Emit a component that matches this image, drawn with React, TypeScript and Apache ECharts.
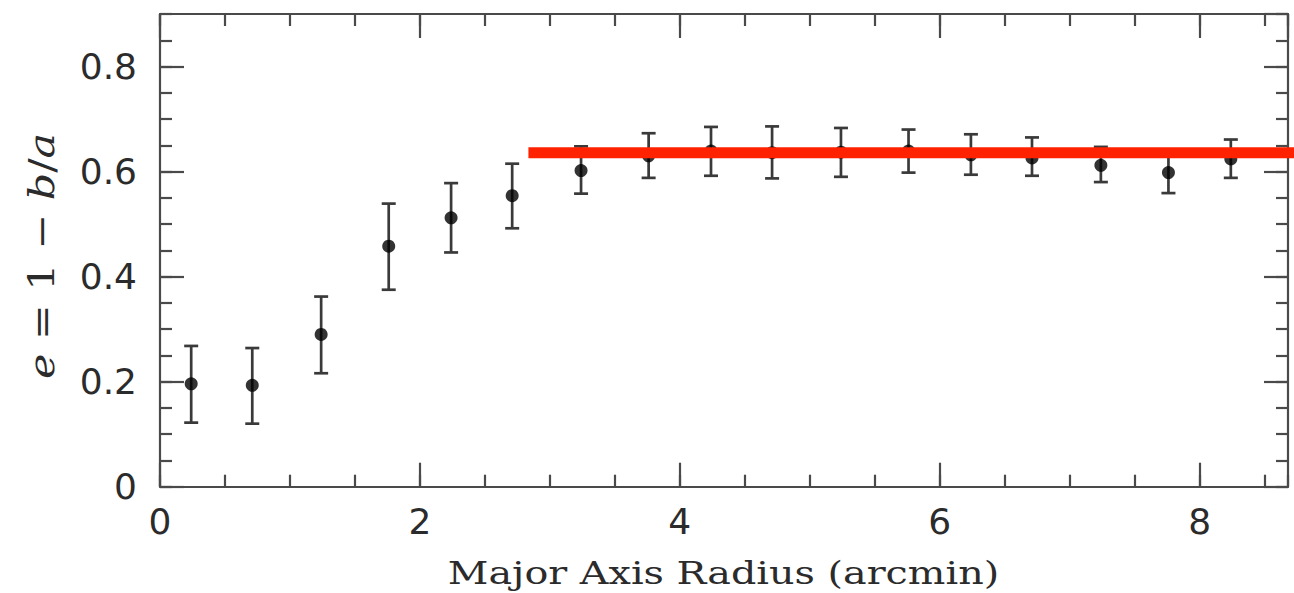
import React, { useEffect, useRef } from "react";
import * as echarts from "echarts";

// ---- Data ----
const radius = [0.24, 0.71, 1.24, 1.76, 2.24, 2.71, 3.24, 3.76, 4.24, 4.71, 5.24, 5.76, 6.24, 6.71, 7.24, 7.76, 8.24];
const ellipticity = [0.196, 0.193, 0.29, 0.458, 0.512, 0.554, 0.602, 0.63, 0.639, 0.636, 0.637, 0.639, 0.632, 0.626, 0.612, 0.598, 0.624];
const errLower = [0.122, 0.12, 0.216, 0.375, 0.446, 0.492, 0.558, 0.588, 0.592, 0.587, 0.59, 0.598, 0.594, 0.592, 0.58, 0.559, 0.588];
const errUpper = [0.268, 0.264, 0.362, 0.539, 0.578, 0.615, 0.648, 0.673, 0.685, 0.686, 0.683, 0.68, 0.671, 0.665, 0.647, 0.636, 0.661];
const fitLevel = 0.636;
const fitStart = 2.835;
const fitEnd = 8.75;

const X_MAX = 8.68;
const Y_MAX = 0.9;

const AXIS_COLOR = "#4a4a4a";
const TEXT_COLOR = "#2b2b2b";

export default function App() {
  const ref = useRef<HTMLDivElement>(null);

  useEffect(() => {
    if (!ref.current) return;
    const chart = echarts.init(ref.current, null, { renderer: "svg" });

    const line = { lineStyle: { color: AXIS_COLOR, width: 2.2 } };
    const mkX = (position: string, interval: number, len: number, showLine: boolean, labels: boolean) => ({
      type: "value",
      position,
      min: 0,
      max: X_MAX,
      interval,
      axisLine: { show: showLine, onZero: false, ...line },
      axisTick: { show: true, inside: true, length: len, ...line },
      axisLabel: {
        show: labels,
        fontSize: 36,
        fontFamily: "DejaVu Sans",
        color: TEXT_COLOR,
        margin: 17,
        showMaxLabel: false,
      },
      splitLine: { show: false },
    });
    const mkY = (position: string, interval: number, len: number, showLine: boolean, labels: boolean) => ({
      type: "value",
      position,
      min: 0,
      max: Y_MAX,
      interval,
      axisLine: { show: showLine, onZero: false, ...line },
      axisTick: { show: true, inside: true, length: len, ...line },
      axisLabel: {
        show: labels,
        fontSize: 36,
        fontFamily: "DejaVu Sans",
        color: TEXT_COLOR,
        margin: 23,
        showMaxLabel: false,
        formatter: (v: number) => (v === 0 ? "0" : v.toFixed(1)),
      },
      splitLine: { show: false },
    });

    const errData = radius.map((r, i) => [r, errLower[i], errUpper[i]]);
    const pointData = radius.map((r, i) => [r, ellipticity[i]]);

    chart.setOption({
      animation: false,
      backgroundColor: "#ffffff",
      grid: { left: 160, right: 6, top: 14, bottom: 106.3, containLabel: false },
      xAxis: [
        mkX("bottom", 2, 24, true, true),
        mkX("bottom", 0.5, 12, false, false),
        mkX("top", 2, 24, true, false),
        mkX("top", 0.5, 12, false, false),
      ],
      yAxis: [
        mkY("left", 0.2, 24, true, true),
        mkY("left", 0.05, 12, false, false),
        mkY("right", 0.2, 24, true, false),
        mkY("right", 0.05, 12, false, false),
      ],
      graphic: [
        {
          type: "text",
          x: 723.5,
          y: 573,
          scaleX: 1.24,
          style: {
            text: "Major Axis Radius (arcmin)",
            font: "32px 'DejaVu Serif'",
            fill: TEXT_COLOR,
            align: "center",
            verticalAlign: "middle",
          },
        },
        {
          type: "text",
          x: 41,
          y: 256,
          rotation: Math.PI / 2,
          scaleX: 1.19,
          style: {
            text: "{i|e} = 1 − {i|b}/{i|a}",
            font: "36px 'DejaVu Serif'",
            fill: TEXT_COLOR,
            align: "center",
            verticalAlign: "middle",
            rich: {
              i: { fontStyle: "italic", fontFamily: "DejaVu Serif", fontSize: 36, fill: TEXT_COLOR },
            },
          },
        },
      ],
      series: [
        {
          type: "custom",
          xAxisIndex: 0,
          yAxisIndex: 0,
          data: errData,
          z: 2,
          renderItem: (params: any, api: any) => {
            const x = api.value(0);
            const lo = api.coord([x, api.value(1)]);
            const hi = api.coord([x, api.value(2)]);
            const half = 7;
            const style = { stroke: "#3a3a3a", lineWidth: 2.7 };
            return {
              type: "group",
              children: [
                { type: "line", shape: { x1: lo[0], y1: lo[1], x2: hi[0], y2: hi[1] }, style },
                { type: "line", shape: { x1: lo[0] - half, y1: lo[1], x2: lo[0] + half, y2: lo[1] }, style },
                { type: "line", shape: { x1: hi[0] - half, y1: hi[1], x2: hi[0] + half, y2: hi[1] }, style },
              ],
            };
          },
        },
        {
          type: "scatter",
          xAxisIndex: 0,
          yAxisIndex: 0,
          data: pointData,
          symbol: "circle",
          symbolSize: 13,
          itemStyle: { color: "#000000" },
          z: 3,
        },
        {
          type: "line",
          xAxisIndex: 0,
          yAxisIndex: 0,
          data: [
            [fitStart, fitLevel],
            [fitEnd, fitLevel],
          ],
          symbol: "none",
          clip: false,
          lineStyle: { color: "#ff2200", width: 11, cap: "butt" },
          z: 5,
        },
      ],
    });

    return () => chart.dispose();
  }, []);

  return (
    <div
      ref={ref}
      style={{ position: "fixed", left: 0, top: 0, width: 1294, height: 593, background: "#fff" }}
    />
  );
}
